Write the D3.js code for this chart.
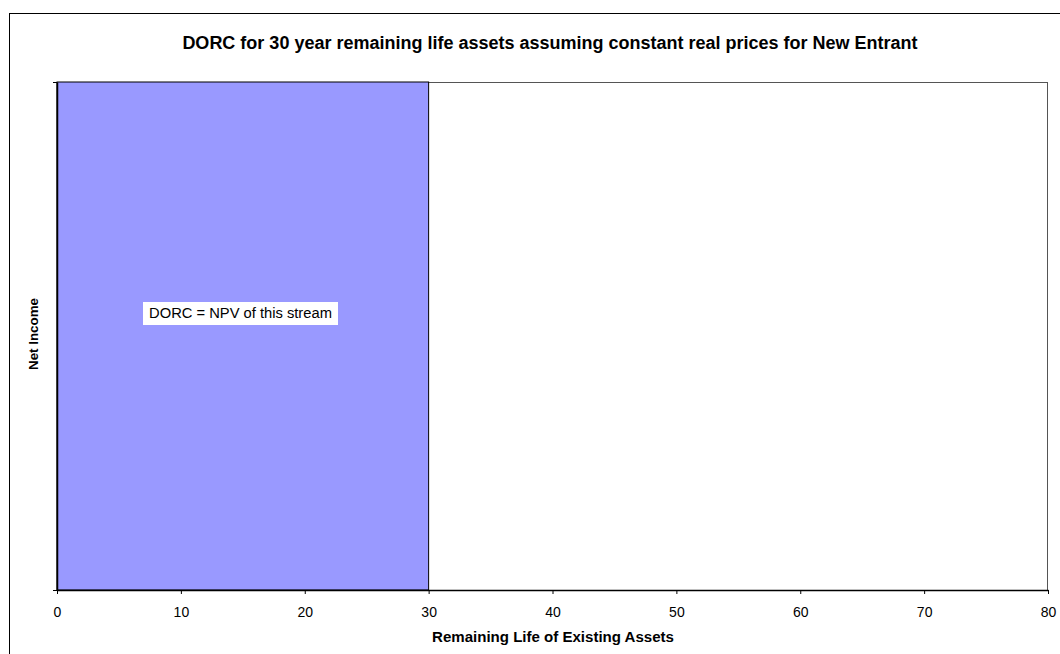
<!DOCTYPE html>
<html><head><meta charset="utf-8">
<script src="https://cdn.jsdelivr.net/npm/d3@7/dist/d3.min.js"></script>
<style>body{margin:0;background:#fff;} svg{display:block;font-family:"Liberation Sans",Arial,sans-serif;}</style>
</head><body>
<svg id="c" width="1060" height="654"></svg>
<script>
const title = "DORC for 30 year remaining life assets assuming constant real prices for New Entrant";
const xTicks = [0,10,20,30,40,50,60,70,80];
const barStart = [0];
const barEnd = [30];
const barValue = [1];
const annotation = "DORC = NPV of this stream";
const xTitle = "Remaining Life of Existing Assets";
const yTitle = "Net Income";

const svg = d3.select("#c");
function fit(sel, target){
  const w = sel.node().getBBox().width;
  const fs = parseFloat(sel.attr("font-size"));
  sel.attr("font-size", (fs*target/w).toFixed(2));
}
svg.append("rect").attr("x",9.5).attr("y",13.5).attr("width",1070).attr("height",660)
  .attr("fill","#fff").attr("stroke","#000").attr("stroke-width",1);

const L=57, R=1048, T=82, B=590;
const x = d3.scaleLinear().domain([0,80]).range([L,R]);
const y = d3.scaleLinear().domain([0,1]).range([B,T]);

svg.append("rect").attr("x",L).attr("y",T+0.5).attr("width",R-L-0.5).attr("height",B-T)
  .attr("fill","none").attr("stroke","#555").attr("stroke-width",1);

svg.selectAll("rect.bar").data(barValue).enter().append("rect").attr("class","bar")
  .attr("x",(d,i)=>x(barStart[i])).attr("y",d=>y(d)).attr("width",(d,i)=>x(barEnd[i])-x(barStart[i]))
  .attr("height",d=>y(0)-y(d)).attr("fill","#9999FF").attr("stroke","#000").attr("stroke-width",1);

const xa = svg.append("g").attr("transform",`translate(0,${B})`)
  .call(d3.axisBottom(x).tickValues(xTicks).tickSize(4).tickSizeOuter(0));
xa.attr("font-size",null).attr("font-family",null);
xa.select(".domain").attr("stroke","#000").attr("stroke-width",1.5);
xa.selectAll(".tick text").attr("font-size",14).attr("fill","#000").attr("y",27).attr("dy",null);

const ya = svg.append("g").attr("transform",`translate(${L},0)`)
  .call(d3.axisLeft(y).tickValues([0,1]).tickSize(4).tickSizeOuter(0).tickFormat(""));
ya.select(".domain").attr("stroke","#000").attr("stroke-width",1.5);

svg.append("rect").attr("x",143).attr("y",302).attr("width",195).attr("height",23).attr("fill","#fff");
const tx = svg.append("text").attr("x",240.5).attr("y",317.5).attr("text-anchor","middle")
  .attr("font-size",12).text(annotation);
fit(tx,183);

const t1 = svg.append("text").attr("x",550).attr("y",48.5).attr("text-anchor","middle").attr("font-size",13).attr("font-weight","bold").text(title);
fit(t1,736);
const t2 = svg.append("text").attr("x",553).attr("y",642).attr("text-anchor","middle").attr("font-size",11).attr("font-weight","bold").text(xTitle);
fit(t2,242);
const t3 = svg.append("text").attr("transform","translate(38,334) rotate(-90)").attr("text-anchor","middle").attr("font-size",11).attr("font-weight","bold").text(yTitle);
fit(t3,72);
</script>
</body></html>
